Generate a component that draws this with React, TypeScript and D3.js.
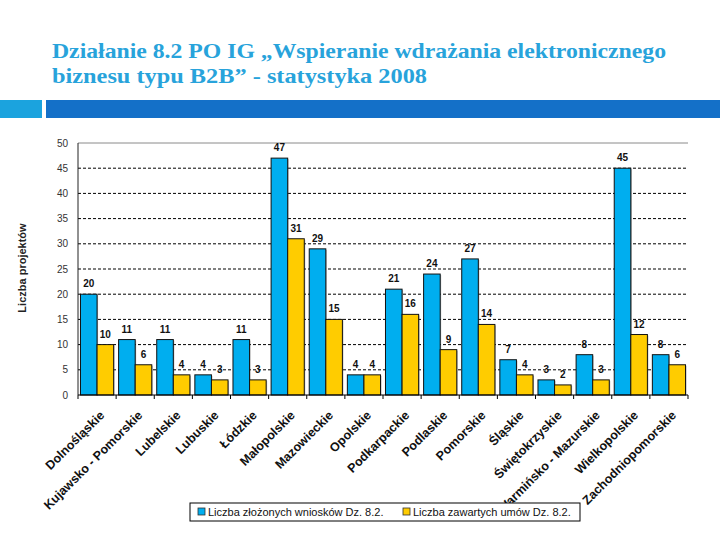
import React from "react";
import * as d3 from "d3";

const categories = [
  "Dolnośląskie",
  "Kujawsko - Pomorskie",
  "Lubelskie",
  "Lubuskie",
  "Łódzkie",
  "Małopolskie",
  "Mazowieckie",
  "Opolskie",
  "Podkarpackie",
  "Podlaskie",
  "Pomorskie",
  "Śląskie",
  "Świętokrzyskie",
  "Warmińsko - Mazurskie",
  "Wielkopolskie",
  "Zachodniopomorskie",
];
const wnioski = [20, 11, 11, 4, 11, 47, 29, 4, 21, 24, 27, 7, 3, 8, 45, 8];
const umowy = [10, 6, 4, 3, 3, 31, 15, 4, 16, 9, 14, 4, 2, 3, 12, 6];
const yTicks = [0, 5, 10, 15, 20, 25, 30, 35, 40, 45, 50];
const seriesNames = ["Liczba złożonych wniosków Dz. 8.2.", "Liczba zawartych umów Dz. 8.2."];
const titleLines = [
  "Działanie 8.2 PO IG „Wspieranie wdrażania elektronicznego",
  "biznesu typu B2B”  - statystyka 2008",
];
const yLabel = "Liczba projektów";

const W = 720;
const H = 540;
const left = 78;
const right = 688;
const top = 143;
const bottom = 395;
const blue = "#00AEEF";
const yellow = "#FFCC00";
const sans = "'Liberation Sans', Arial, sans-serif";

export default function App() {
  const x = d3.scaleBand<string>().domain(categories).range([left, right]).padding(0);
  const y = d3.scaleLinear().domain([0, 50]).range([bottom, top]);
  const bw = x.bandwidth();
  const group = bw * 0.87;
  const barW = group / 2;
  const off = (bw - group) / 2;
  const series = [wnioski, umowy];
  const colors = [blue, yellow];

  return (
    <svg width={W} height={H} style={{ position: "absolute", left: 0, top: 0, background: "#fff" }}>
      {/* title */}
      {titleLines.map((t, i) => (
        <text
          key={i}
          x={52}
          y={58 + i * 25}
          fontFamily="'Liberation Serif', 'Times New Roman', serif"
          fontWeight="bold"
          fontSize={22}
          fill="#28A3DB"
          textLength={i === 0 ? 614 : 375}
          lengthAdjust="spacingAndGlyphs"
        >
          {t}
        </text>
      ))}
      <rect x={0} y={100} width={42} height={18} fill="#1BA3DE" />
      <rect x={46} y={100} width={W - 46} height={18} fill="#1470C8" />

      {/* gridlines */}
      {yTicks.filter((v) => v > 0 && v < 50).map((v) => (
        <line key={v} x1={left} x2={right} y1={y(v)} y2={y(v)} stroke="#000" strokeWidth={1} strokeDasharray="3,2" />
      ))}
      <line x1={left} x2={right} y1={y(50)} y2={y(50)} stroke="#8a8a8a" strokeWidth={1} />

      {/* y tick labels */}
      {yTicks.map((v) => (
        <text key={v} x={68} y={y(v) + 3.5} textAnchor="end" fontFamily={sans} fontSize={10} fill="#333">
          {v}
        </text>
      ))}
      <text
        transform={`translate(26,268) rotate(-90)`}
        textAnchor="middle"
        fontFamily={sans}
        fontWeight="bold"
        fontSize={11}
        fill="#222"
      >
        {yLabel}
      </text>

      {/* bars */}
      {series.map((s, si) =>
        s.map((v, i) => {
          const bx = (x(categories[i]) as number) + off + si * barW;
          return (
            <g key={`${si}-${i}`}>
              <rect x={bx + 1} y={y(v) + 1} width={barW} height={bottom - y(v) - 1} fill="#555" opacity={0.4} />
              <rect x={bx} y={y(v)} width={barW} height={bottom - y(v)} fill={colors[si]} stroke="#111" strokeWidth={1} />
              <text
                x={bx + barW / 2}
                y={y(v) - 7}
                textAnchor="middle"
                fontFamily={sans}
                fontWeight="bold"
                fontSize={10}
                fill="#111"
              >
                {v}
              </text>
            </g>
          );
        })
      )}

      {/* axes */}
      <line x1={left} x2={left} y1={top} y2={bottom} stroke="#222" strokeWidth={1} />
      <line x1={left} x2={right} y1={bottom} y2={bottom} stroke="#000" strokeWidth={1.2} />
      {categories.map((c) => (
        <line key={c} x1={x(c) as number} x2={x(c) as number} y1={bottom} y2={bottom + 4} stroke="#000" />
      ))}
      <line x1={right} x2={right} y1={bottom} y2={bottom + 4} stroke="#000" />

      {/* x labels */}
      {categories.map((c) => {
        const cx = (x(c) as number) + bw / 2;
        return (
          <text
            key={c}
            transform={`translate(${cx + 8},${416}) rotate(-45)`}
            textAnchor="end"
            fontFamily={sans}
            fontWeight="bold"
            fontSize={12.5}
            fill="#111"
          >
            {c}
          </text>
        );
      })}

      {/* legend */}
      <rect x={190} y={503} width={390} height={18} fill="#fff" stroke="#000" strokeWidth={1} />
      {seriesNames.map((n, i) => {
        const lx = i === 0 ? 198 : 403;
        return (
          <g key={n}>
            <rect x={lx} y={508} width={7} height={7} fill={colors[i]} stroke="#333" strokeWidth={0.8} />
            <text x={lx + 10} y={516} fontFamily={sans} fontSize={11} fill="#111">
              {n}
            </text>
          </g>
        );
      })}
    </svg>
  );
}
